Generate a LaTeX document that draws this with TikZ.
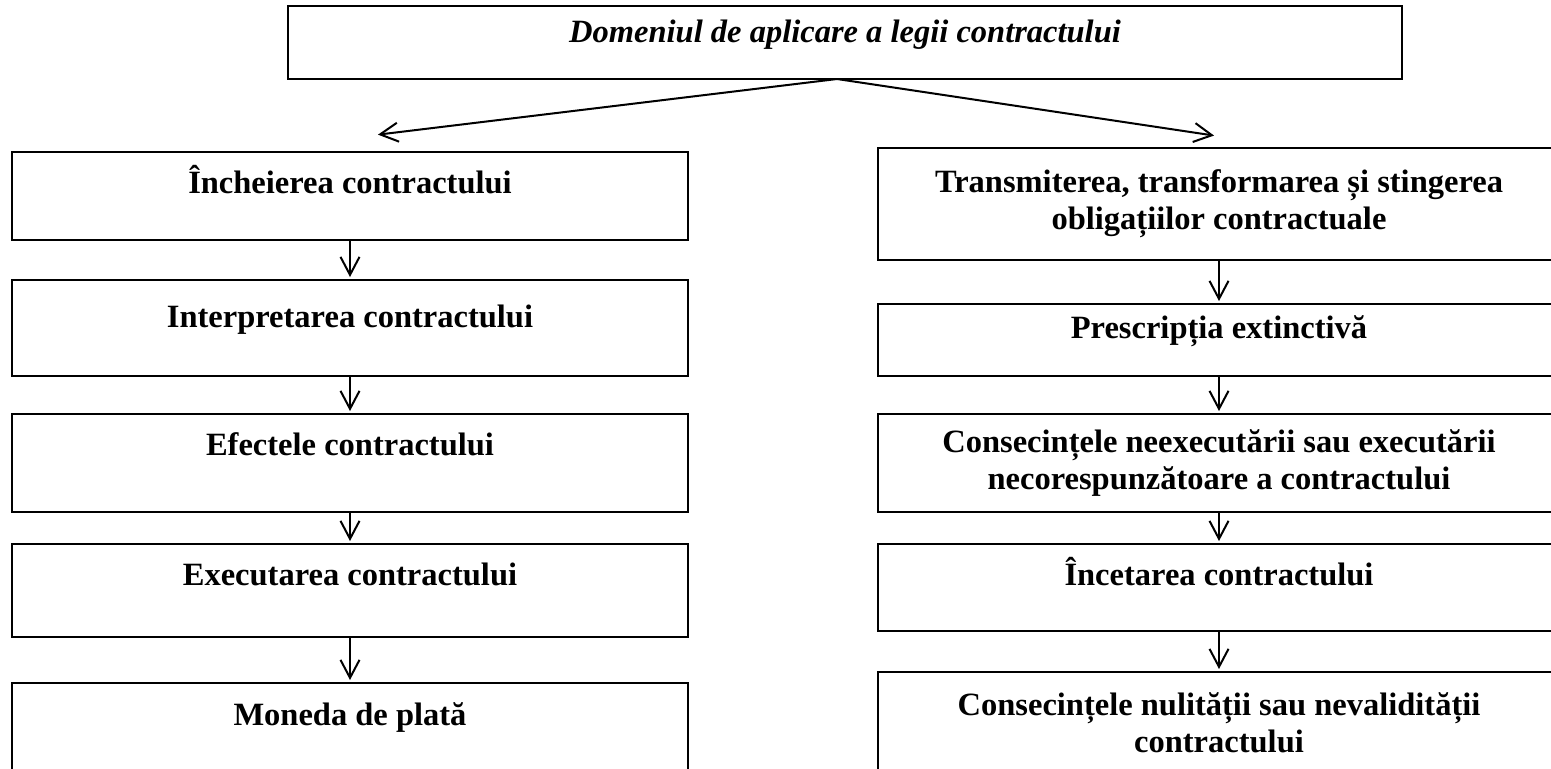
\documentclass[tikz,border=0pt]{standalone}
\usepackage{fontspec}
\setmainfont{Liberation Serif}
\usetikzlibrary{positioning, arrows.meta}

\tikzset{
  box/.style={draw, line width=1.1pt, inner sep=0pt, outer sep=0pt, align=center,
    font=\fontsize{16.25pt}{18.5pt}\selectfont\bfseries},
  titlebox/.style={box, font=\fontsize{16.25pt}{18.5pt}\selectfont\bfseries\itshape},
  lbox/.style={box, minimum width=338pt},
  rbox/.style={box, minimum width=341pt},
  topline/.style 2 args={text height=#1, text depth=#2},
  link/.style={-{Straight Barb[length=9pt,width=9.5pt]}, line width=1pt, shorten >=1.5pt}
}

\begin{document}
\begin{tikzpicture}[x=0.5pt, y=-0.5pt]
  \useasboundingbox (0,0) rectangle (1551,768);
  \clip (0,0) rectangle (1551,768);

  \node[titlebox, minimum width=557pt, topline={18pt}{18.5pt}] (dom) at (845,42.5) {Domeniul de aplicare a legii contractului};

  \node[lbox, topline={20.5pt}{23.5pt}] (l1) at (350,196) {Încheierea contractului};
  \node[lbox, topline={23.5pt}{24.5pt}] (l2) [below=20pt of l1] {Interpretarea contractului};
  \node[lbox, topline={20.5pt}{28.5pt}] (l3) [below=19pt of l2] {Efectele contractului};
  \node[lbox, topline={20.5pt}{26pt}] (l4) [below=16pt of l3] {Executarea contractului};
  \node[lbox, topline={21pt}{29pt}] (l5) [below=23pt of l4] {Moneda de plată};

  \node[rbox, minimum height=56pt] (r1) at (1219,204) {Transmiterea, transformarea și stingerea\\obligațiilor contractuale};
  \node[rbox, topline={17pt}{19pt}] (r2) [below=22pt of r1] {Prescripția extinctivă};
  \node[rbox, minimum height=49pt] (r3) [below=19pt of r2] {Consecințele neexecutării sau executării\\necorespunzătoare a contractului};
  \node[rbox, topline={20.5pt}{23pt}] (r4) [below=16pt of r3] {Încetarea contractului};
  \node[rbox, minimum height=51pt] (r5) [below=20.5pt of r4] {Consecințele nulității sau nevalidității\\contractului};

  \coordinate (tl) at (375,135);
  \coordinate (tr) at (1217,136);

  \path[link]
    ([xshift=-4pt]dom.south) edge (tl)
    ([xshift=-4pt]dom.south) edge (tr)
    (l1) edge (l2)
    (l2) edge (l3)
    (l3) edge (l4)
    (l4) edge (l5)
    (r1) edge (r2)
    (r2) edge (r3)
    (r3) edge (r4)
    (r4) edge (r5);
\end{tikzpicture}
\end{document}
